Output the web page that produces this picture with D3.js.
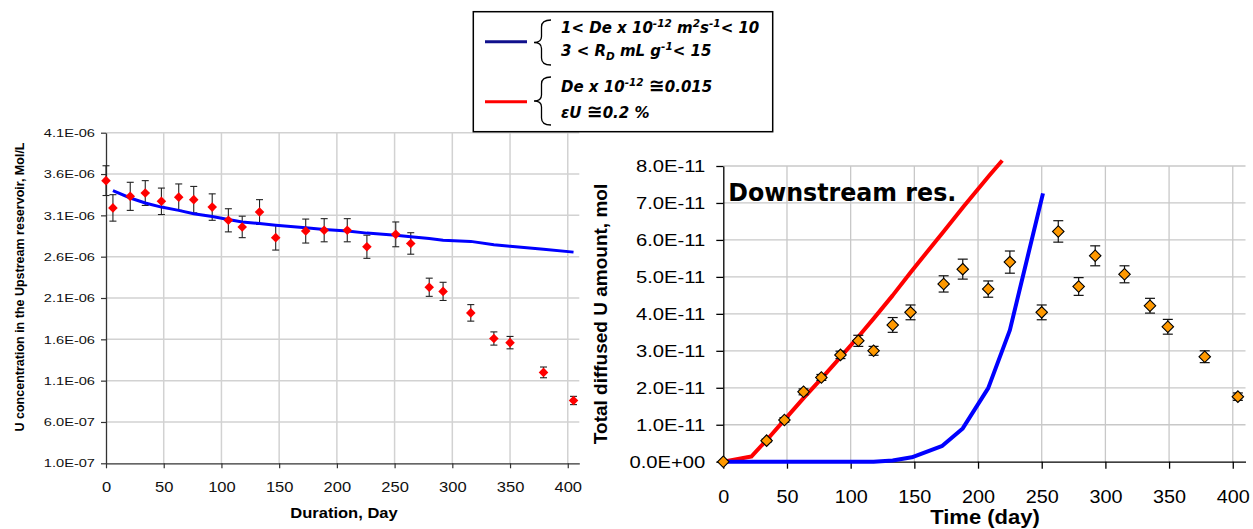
<!DOCTYPE html>
<html>
<head>
<meta charset="utf-8">
<script src="https://cdn.jsdelivr.net/npm/d3@7"></script>
<style>
  body { margin: 0; background: #fff; }
  svg { display: block; }
</style>
</head>
<body>
<svg width="1253" height="529"></svg>
<script>
// ---- data ----
// upstream reservoir, concentration in 1E-06 mol/L
const upDays = [0, 6, 21, 34, 48, 63, 76, 92, 106, 118, 133, 147, 173, 189, 209, 226, 251, 264, 280, 292, 316, 336, 350, 379, 405];
const upConc = [3.52, 3.19, 3.33, 3.37, 3.27, 3.32, 3.29, 3.20, 3.04, 2.96, 3.14, 2.83, 2.91, 2.92, 2.92, 2.72, 2.87, 2.76, 2.23, 2.18, 1.92, 1.61, 1.56, 1.20, 0.86];
const upErr = [0.18, 0.16, 0.17, 0.15, 0.16, 0.16, 0.16, 0.16, 0.14, 0.13, 0.15, 0.15, 0.145, 0.14, 0.14, 0.14, 0.15, 0.13, 0.11, 0.11, 0.10, 0.08, 0.075, 0.065, 0.05];
const upModelDays = [6, 21, 34, 48, 63, 76, 92, 106, 118, 133, 147, 173, 189, 209, 226, 251, 264, 280, 292, 316, 336, 350, 379, 405];
const upModel = [3.40, 3.31, 3.25, 3.20, 3.16, 3.12, 3.085, 3.05, 3.02, 3.00, 2.98, 2.95, 2.93, 2.91, 2.885, 2.86, 2.84, 2.82, 2.80, 2.785, 2.745, 2.725, 2.69, 2.655];
const upTicks = [0.1, 0.6, 1.1, 1.6, 2.1, 2.6, 3.1, 3.6, 4.1];

// downstream reservoir, amount in 1E-11 mol
const downDays = [0, 34, 48, 63, 77, 92, 106, 118, 133, 147, 173, 188, 208, 225, 250, 263, 279, 292, 315, 335, 349, 378, 404];
const downAmt = [0, 0.57, 1.13, 1.89, 2.28, 2.89, 3.27, 3.00, 3.70, 4.04, 4.81, 5.21, 4.67, 5.40, 4.04, 6.23, 4.74, 5.57, 5.07, 4.22, 3.65, 2.84, 1.76];
const downErr = [0, 0.04, 0.06, 0.08, 0.08, 0.1, 0.15, 0.12, 0.2, 0.2, 0.22, 0.27, 0.22, 0.3, 0.2, 0.29, 0.24, 0.27, 0.23, 0.2, 0.2, 0.16, 0.1];
const blueDays = [0, 20, 35, 48, 63, 77, 92, 106, 118, 133, 148, 172, 188, 208, 225, 251];
const blueAmt = [0, 0, 0, 0, 0, 0, 0, 0, 0, 0.03, 0.12, 0.43, 0.90, 1.99, 3.56, 7.26];
const redDays = [0, 22, 35, 48, 63, 77, 92, 106, 118, 133, 147, 173, 189, 209, 219];
const redAmt = [0, 0.14, 0.62, 1.13, 1.72, 2.25, 2.83, 3.38, 3.87, 4.50, 5.12, 6.23, 6.92, 7.75, 8.15];
const downTicks = [0, 1, 2, 3, 4, 5, 6, 7, 8];

const dayTicks = [0, 50, 100, 150, 200, 250, 300, 350, 400];

// excel style 1.0E-07
function sci(v) {
  const [m, e] = v.toExponential(1).split('e');
  const sign = e[0] === '-' ? '-' : '+';
  return m + 'E' + sign + e.replace(/[+-]/, '').padStart(2, '0');
}

// the original text is stretched sideways
function stretch(sel, k) {
  sel.each(function () {
    const w = this.getComputedTextLength();
    d3.select(this).attr('textLength', w * k).attr('lengthAdjust', 'spacingAndGlyphs');
  });
}

const ARIAL = 'Liberation Sans, Arial, sans-serif';
const svg = d3.select('svg');
svg.append('rect').attr('width', 1253).attr('height', 529).attr('fill', '#fff');

// ================= left chart =================
const L = { x: 106, y: 132.7, w: 473.3, h: 330.6 };
const gL = svg.append('g').attr('transform', `translate(${L.x},${L.y})`);
const xL = d3.scaleLinear().domain([0, 410]).range([0, L.w]);
const yL = d3.scaleLinear().domain([0.1, 4.1]).range([L.h, 0]);

gL.append('g').selectAll('line').data(upTicks.slice(1)).join('line')
  .attr('x1', 0).attr('x2', L.w)
  .attr('y1', d => yL(d)).attr('y2', d => yL(d))
  .attr('stroke', '#d2d2d2').attr('stroke-width', 1.5);
gL.append('g').selectAll('line').data(dayTicks.slice(1)).join('line')
  .attr('x1', d => xL(d)).attr('x2', d => xL(d))
  .attr('y1', 0).attr('y2', L.h)
  .attr('stroke', '#d2d2d2').attr('stroke-width', 1.5);

const yAxL = gL.append('g')
  .call(d3.axisLeft(yL).tickValues(upTicks).tickFormat(v => sci(v * 1e-6)).tickSize(5).tickSizeOuter(0).tickPadding(6));
const xAxL = gL.append('g').attr('transform', `translate(0,${L.h})`)
  .call(d3.axisBottom(xL).tickValues(dayTicks).tickSize(5).tickSizeOuter(0));
[yAxL, xAxL].forEach(a => {
  a.select('.domain').attr('stroke', '#333').attr('stroke-width', 1.3);
  a.selectAll('.tick line').attr('stroke', '#333').attr('stroke-width', 1.2);
});
yAxL.selectAll('text').attr('font-family', ARIAL).attr('font-size', 11.5).attr('fill', '#111');
stretch(yAxL.selectAll('text'), 1.27);
xAxL.selectAll('text').attr('font-family', ARIAL).attr('font-size', 14).attr('fill', '#111')
  .attr('y', 28.5).attr('dy', null);
stretch(xAxL.selectAll('text'), 1.18);

// error bars
const ebL = gL.append('g').attr('stroke', '#222').attr('stroke-width', 1.1);
upDays.forEach((d, i) => {
  const x = xL(d), y1 = yL(upConc[i] - upErr[i]), y2 = yL(upConc[i] + upErr[i]);
  ebL.append('line').attr('x1', x).attr('x2', x).attr('y1', y1).attr('y2', y2);
  ebL.append('line').attr('x1', x - 3.5).attr('x2', x + 3.5).attr('y1', y1).attr('y2', y1);
  ebL.append('line').attr('x1', x - 3.5).attr('x2', x + 3.5).attr('y1', y2).attr('y2', y2);
});

gL.append('path')
  .datum(upModelDays.map((d, i) => [d, upModel[i]]))
  .attr('fill', 'none').attr('stroke', '#0000ff').attr('stroke-width', 3)
  .attr('d', d3.line().x(d => xL(d[0])).y(d => yL(d[1])));

const diamondL = d3.symbol(d3.symbolSquare, 46)();
gL.append('g').selectAll('path').data(upDays).join('path')
  .attr('d', diamondL)
  .attr('transform', (d, i) => `translate(${xL(d)},${yL(upConc[i])}) rotate(45)`)
  .attr('fill', '#ff0000');

const xLabL = svg.append('text')
  .attr('x', 344).attr('y', 518).attr('text-anchor', 'middle')
  .attr('font-family', ARIAL).attr('font-weight', 'bold').attr('font-size', 14)
  .text('Duration, Day');
stretch(xLabL, 1.18);

svg.append('text')
  .attr('transform', 'translate(24,287) rotate(-90)').attr('text-anchor', 'middle')
  .attr('font-family', ARIAL).attr('font-weight', 'bold').attr('font-size', 12.5)
  .text('U concentration in the Upstream reservoir, Mol/L');

// ================= right chart =================
const R = { x: 723.3, y: 166, w: 522.2, h: 295.7 };
const gR = svg.append('g').attr('transform', `translate(${R.x},${R.y})`);
const xR = d3.scaleLinear().domain([0, 410]).range([0, R.w]);
const yR = d3.scaleLinear().domain([0, 8]).range([R.h, 0]);

gR.append('g').selectAll('line').data(downTicks.slice(1)).join('line')
  .attr('x1', 0).attr('x2', R.w)
  .attr('y1', d => yR(d)).attr('y2', d => yR(d))
  .attr('stroke', '#c8c8c8').attr('stroke-width', 1.3);
gR.append('g').selectAll('line').data(dayTicks.slice(1)).join('line')
  .attr('x1', d => xR(d)).attr('x2', d => xR(d))
  .attr('y1', 0).attr('y2', R.h)
  .attr('stroke', '#c8c8c8').attr('stroke-width', 1.3);

const yAxR = gR.append('g')
  .call(d3.axisLeft(yR).tickValues(downTicks).tickFormat(v => sci(v * 1e-11)).tickSize(7).tickSizeOuter(0).tickPadding(11));
const xAxR = gR.append('g').attr('transform', `translate(0,${R.h})`)
  .call(d3.axisBottom(xR).tickValues(dayTicks).tickSize(7).tickSizeOuter(0));
[yAxR, xAxR].forEach(a => {
  a.select('.domain').attr('stroke', '#000').attr('stroke-width', 1.3);
  a.selectAll('.tick line').attr('stroke', '#000').attr('stroke-width', 1.3);
});
yAxR.selectAll('text').attr('font-family', ARIAL).attr('font-size', 17).attr('fill', '#000');
stretch(yAxR.selectAll('text'), 1.19);
xAxR.selectAll('text').attr('font-family', ARIAL).attr('font-size', 18).attr('fill', '#000')
  .attr('y', 41.3).attr('dy', null);
stretch(xAxR.selectAll('text'), 1.1);

const lineR = d3.line().x(d => xR(d[0])).y(d => yR(d[1]));
gR.append('path')
  .datum(redDays.map((d, i) => [d, redAmt[i]]))
  .attr('fill', 'none').attr('stroke', '#ff0000').attr('stroke-width', 4)
  .attr('stroke-linejoin', 'round').attr('d', lineR);
gR.append('path')
  .datum(blueDays.map((d, i) => [d, blueAmt[i]]))
  .attr('fill', 'none').attr('stroke', '#0000ff').attr('stroke-width', 4)
  .attr('stroke-linejoin', 'round').attr('d', lineR);

const ebR = gR.append('g').attr('stroke', '#111').attr('stroke-width', 1.2);
downDays.forEach((d, i) => {
  if (!downErr[i]) return;
  const x = xR(d), y1 = yR(downAmt[i] - downErr[i]), y2 = yR(downAmt[i] + downErr[i]);
  ebR.append('line').attr('x1', x).attr('x2', x).attr('y1', y1).attr('y2', y2);
  ebR.append('line').attr('x1', x - 5).attr('x2', x + 5).attr('y1', y1).attr('y2', y1);
  ebR.append('line').attr('x1', x - 5).attr('x2', x + 5).attr('y1', y2).attr('y2', y2);
});

const diamondR = d3.symbol(d3.symbolSquare, 66)();
gR.append('g').selectAll('path').data(downDays).join('path')
  .attr('d', diamondR)
  .attr('transform', (d, i) => `translate(${xR(d)},${yR(downAmt[i])}) rotate(45)`)
  .attr('fill', '#ff9900').attr('stroke', '#000').attr('stroke-width', 1.1);

svg.append('text')
  .attr('x', 728.3).attr('y', 201)
  .attr('font-family', 'DejaVu Sans, Verdana, sans-serif').attr('font-weight', 'bold').attr('font-size', 25)
  .attr('textLength', 228).attr('lengthAdjust', 'spacingAndGlyphs')
  .text('Downstream res.');

const xLabR = svg.append('text')
  .attr('x', 985).attr('y', 524).attr('text-anchor', 'middle')
  .attr('font-family', ARIAL).attr('font-weight', 'bold').attr('font-size', 20)
  .text('Time (day)');
stretch(xLabR, 1.1);

svg.append('text')
  .attr('transform', 'translate(607,314) rotate(-90)').attr('text-anchor', 'middle')
  .attr('font-family', ARIAL).attr('font-weight', 'bold').attr('font-size', 19)
  .text('Total diffused U amount, mol');

// ================= legend =================
const lg = svg.append('g');
lg.append('rect').attr('x', 473.3).attr('y', 11.7).attr('width', 299.4).attr('height', 120)
  .attr('fill', '#fff').attr('stroke', '#000').attr('stroke-width', 1.5);
lg.append('line').attr('x1', 485).attr('x2', 527).attr('y1', 41.7).attr('y2', 41.7)
  .attr('stroke', '#10108c').attr('stroke-width', 3);
lg.append('line').attr('x1', 485).attr('x2', 527).attr('y1', 101.7).attr('y2', 101.7)
  .attr('stroke', '#ff0000').attr('stroke-width', 3);

function brace(top, bot) {
  const mid = (top + bot) / 2, xe = 551, xm = 541.5, xt = 534;
  return `M${xe},${top} Q${xm},${top} ${xm},${top + 7} L${xm},${mid - 6} Q${xm},${mid} ${xt},${mid}` +
    ` Q${xm},${mid} ${xm},${mid + 6} L${xm},${bot - 7} Q${xm},${bot} ${xe},${bot}`;
}
lg.append('path').attr('d', brace(20, 65)).attr('fill', 'none').attr('stroke', '#000').attr('stroke-width', 1.3);
lg.append('path').attr('d', brace(77, 125)).attr('fill', 'none').attr('stroke', '#000').attr('stroke-width', 1.3);

const legendLines = [
  { y: 32.5, parts: [['1< De x 10'], ['-12', 'sup'], [' m'], ['2', 'sup'], ['s'], ['-1', 'sup'], ['< 10']] },
  { y: 55.5, parts: [['3 < R'], ['D', 'sub'], [' mL g'], ['-1', 'sup'], ['< 15']] },
  { y: 91.7, parts: [['De x 10'], ['-12', 'sup'], [' '], ['\u2245', 'big'], ['0.015']] },
  { y: 118.3, parts: [['\u03b5U '], ['\u2245', 'big'], ['0.2 %']] }
];
legendLines.forEach(l => {
  const t = lg.append('text').attr('x', 561).attr('y', l.y)
    .attr('font-family', 'DejaVu Sans, Verdana, sans-serif').attr('font-weight', 'bold')
    .attr('font-style', 'italic').attr('font-size', 15);
  let shift = 0;
  l.parts.forEach(([s, kind]) => {
    const target = kind === 'sup' ? -6 : kind === 'sub' ? 4 : 0;
    const size = kind === 'sup' || kind === 'sub' ? 10.5 : kind === 'big' ? 19 : 15;
    t.append('tspan').attr('dy', target - shift)
      .attr('font-size', size).text(s);
    shift = target;
  });
});
</script>
</body>
</html>
